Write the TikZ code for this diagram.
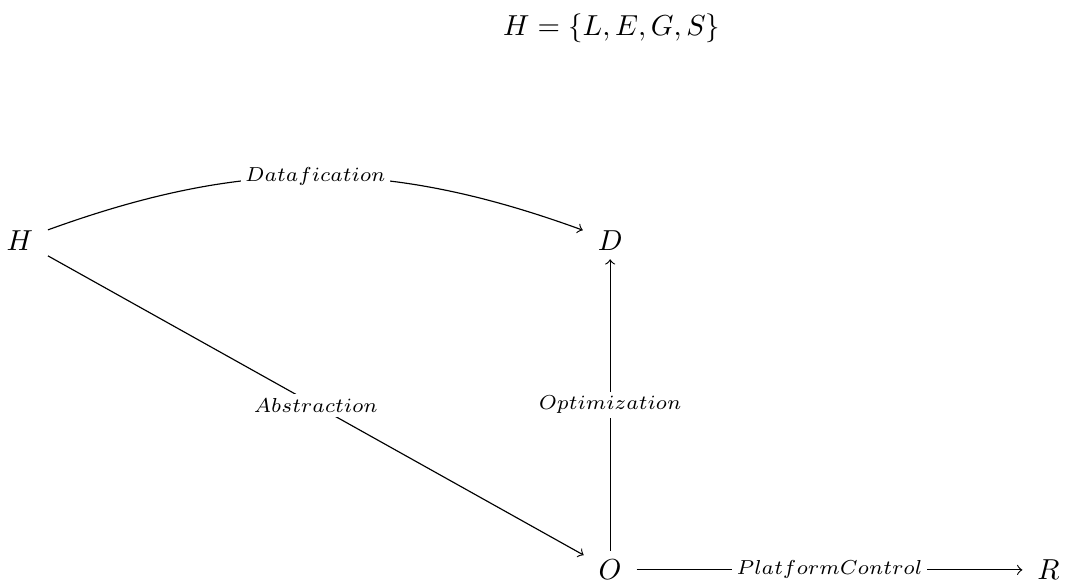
\documentclass[tikz,border=0pt]{standalone}
\usepackage{tikz}
\usetikzlibrary{arrows}
\newcommand{\elab}[1]{$\scriptstyle #1$}

\begin{document}
\begin{tikzpicture}[obj/.style={inner xsep=5pt,inner ysep=3pt},
  lab/.style={fill=white,inner sep=1.5pt}]
\useasboundingbox (0,0) rectangle (13,-7.09);
\draw(7.44,-0.34) node (T) {$H=\{L,E,G,S\}$};
\draw(0.24,-2.92) node[obj] (H) {$H$};
\draw(7.42,-2.92) node[obj] (D) {$D$};
\draw(7.42,-6.93) node[obj] (O) {$O$};
\draw(12.75,-6.93) node[obj] (R) {$R$};

\draw[->] (H) to[bend left=20] node[lab] {\elab{Datafication}} (D);
\draw[->] (H) -- node[lab] {\elab{Abstraction}} (O);
\draw[->] (O) -- node[lab] {\elab{Optimization}} (D);
\draw[->] (O) -- node[lab] {\elab{PlatformControl}} (R);
\end{tikzpicture}
\end{document}
